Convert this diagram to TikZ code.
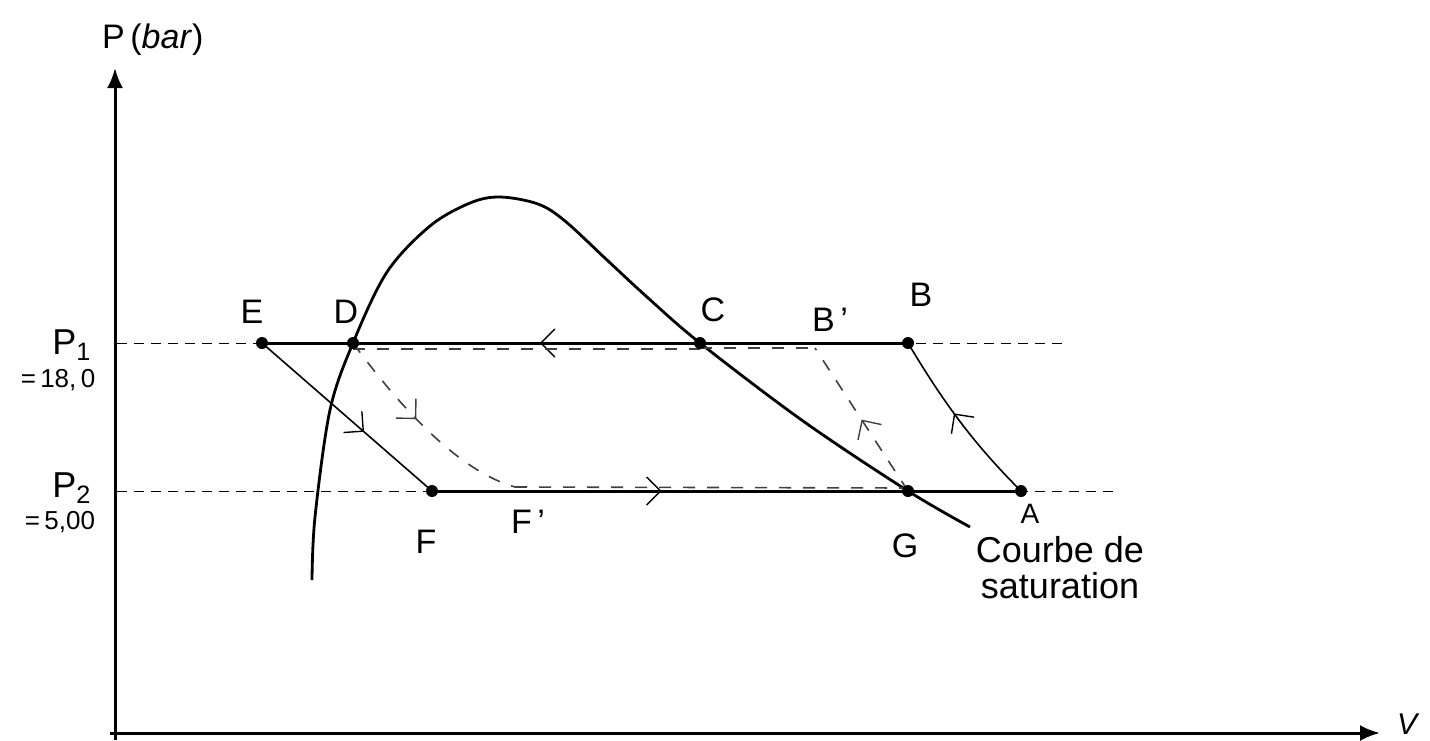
\documentclass[tikz,border=0pt]{standalone}
\usepackage{fontspec}
\setmainfont{Liberation Sans}
\usetikzlibrary{arrows.meta,decorations.markings}
\begin{document}
\begin{tikzpicture}[x=0.5pt,y=-0.5pt,
  axis/.style={line width=1.5pt,-{Latex[length=10pt,width=8pt]}},
  guide/.style={line width=0.5pt,dash pattern=on 5pt off 3.5pt},
  isobar/.style={line width=1.5pt},
  thinpath/.style={line width=0.8pt},
  dashpath/.style={line width=0.8pt,draw=black!75,dash pattern=on 6pt off 6pt},
  satcurve/.style={line width=1.4pt},
  midarrow/.style={postaction={decorate,decoration={markings,
     mark=at position #1 with {\arrow[line width=0.7pt]{Straight Barb[length=7pt,width=14pt]}}}}},
  dot/.style={circle,fill=black,inner sep=0pt,minimum size=6pt},
  hand/.style={font=\fontsize{17}{19}\selectfont},
  lab/.style={font=\fontsize{18}{20}\selectfont},
  small/.style={font=\fontsize{13}{15}\selectfont}
]
\useasboundingbox (0,0) rectangle (1430,740);

% axes
\coordinate (Ytop) at (115,68);
\coordinate (Xend) at (1380,733);
\draw[axis] (115,740) -- (Ytop);
\draw[axis] (110,733) -- (Xend);
\node[font=\fontsize{17}{19}\selectfont,anchor=west] (ylab) at (95,40) {P\,(\textit{bar})};
\node[font=\fontsize{15}{17}\selectfont\itshape] (xlab) at (1407,724) {V};

% points
\coordinate (E) at (262,343);
\coordinate (D) at (353,343);
\coordinate (C) at (700,343);
\coordinate (Bp) at (815,348);
\coordinate (B) at (908,343);
\coordinate (F) at (432,491);
\coordinate (Fp) at (515,487);
\coordinate (G) at (908,491);
\coordinate (A) at (1021,491);

% pressure guide lines
\coordinate (P1s) at (117,343);
\coordinate (P1e) at (1065,343);
\coordinate (P2s) at (117,491);
\coordinate (P2e) at (1115,491);
\draw[guide] (P1s) -- (P1e);
\draw[guide] (P2s) -- (P2e);

% saturation curve
\draw[satcurve] plot[smooth,tension=0.55] coordinates {
 (312,580) (315,517) (330,410) (353,343) (387,272) (430,226) (470,203)
 (500,197) (538,204) (565,221) (607,260) (647,297) (700,343)
 (803,421) (908,491) (970,527)};

% real cycle (solid)
\draw[isobar,midarrow=0.57] (B) -- (E);
\draw[isobar,midarrow=0.39] (F) -- (A);
\draw[thinpath,midarrow=0.6] (E) -- (F);
\draw[thinpath,midarrow=0.55] (A) .. controls (975,445) and (945,405) .. (B);

% ideal cycle (dashed)
\draw[dashpath] ([yshift=-3pt]D) -- ([yshift=-3pt]C);
\draw[dashpath] ([yshift=-2.5pt]C) -- (Bp);
\draw[dashpath,midarrow=0.45] (D) .. controls (395,400) and (455,470) .. (Fp);
\draw[dashpath] (Fp) -- ([yshift=1.5pt]G);
\draw[dashpath,midarrow=0.5] (G) -- (Bp);

% dots
\foreach \p in {E,D,C,B,F,G,A} \node[dot] at (\p) {};

% point labels
\node[hand] (lE) at (252,312) {E};
\node[hand] (lD) at (346,312) {D};
\node[hand] (lC) at (713,310) {C};
\node[hand] (lBp) at (830,320) {B\,'};
\node[hand] (lB) at (921,295) {B};
\node[hand] (lF) at (426,542) {F};
\node[hand] (lFp) at (528,522) {F\,'};
\node[hand] (lG) at (905,546) {G};
\node[font=\fontsize{14}{16}\selectfont] (lA) at (1030,514) {A};

% saturation label
\node[font=\fontsize{18}{18}\selectfont,align=center] (sat) at (1060,568) {Courbe de\\saturation};

% pressure labels
\node[lab] (P1) at (72,345) {P\textsubscript{1}};
\node[small] (P1v) at (58,380) {=\,18,\,0};
\node[lab] (P2) at (72,488) {P\textsubscript{2}};
\node[small] (P2v) at (60,522) {=\,5,00};
\end{tikzpicture}
\end{document}
